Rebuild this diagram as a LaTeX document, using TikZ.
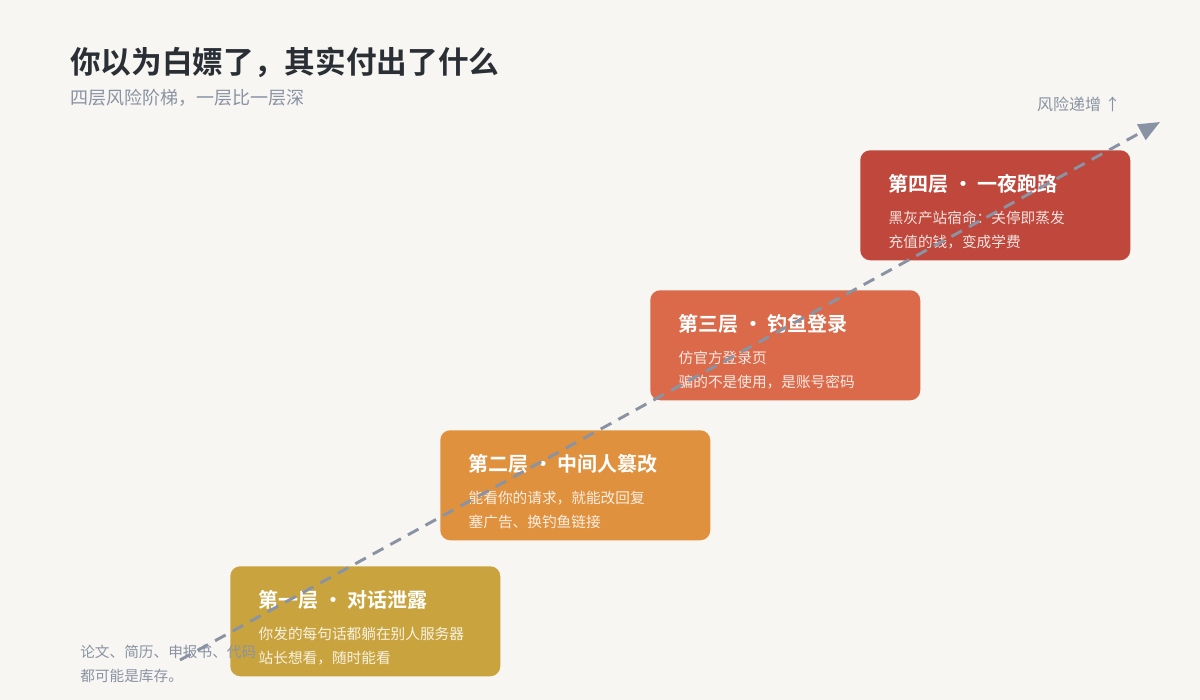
\documentclass[tikz,border=0pt]{standalone}
\usepackage{fontspec}
\setmainfont{Noto Sans CJK SC}
\newfontfamily\cjkbold{Noto Sans CJK SC Bold}
\usetikzlibrary{arrows.meta}
\definecolor{bgpaper}{HTML}{F7F6F2}
\definecolor{inkdark}{HTML}{2A2F36}
\definecolor{inkgray}{HTML}{8A93A3}
\definecolor{layerone}{HTML}{C9A43E}
\definecolor{layertwo}{HTML}{E0913E}
\definecolor{layerthree}{HTML}{DB6A4A}
\definecolor{layerfour}{HTML}{C0473B}
\tikzset{
  layer/.style={fill=#1, rounded corners=7.5, minimum width=202.5pt, minimum height=82.5pt, anchor=north west, inner sep=0},
  layertitle/.style={anchor=west, text=white, font=\cjkbold\fontsize{15}{18}\selectfont},
  layertext/.style={anchor=west, text=white, text opacity=0.85, font=\fontsize{11}{13}\selectfont},
  graytext/.style={text=inkgray, font=\fontsize{11}{13}\selectfont},
}
\begin{document}
\begin{tikzpicture}[x=0.75pt,y=-0.75pt]
		\fill[bgpaper] (0,0) rectangle (1200,700);
		\useasboundingbox (0,0) rectangle (1200,700);
		% heading
		\node[anchor=west, text=inkdark, font=\cjkbold\fontsize{23}{27}\selectfont, inner sep=0] (title) at (70,62) {你以为白嫖了，其实付出了什么};
		\node[anchor=west, text=inkgray, font=\fontsize{13.5}{16}\selectfont, inner sep=0] (subtitle) at (70,98) {四层风险阶梯，一层比一层深};
		\node[anchor=east, graytext, font=\fontsize{12}{14}\selectfont, inner sep=0] (trend) at (1121,104) {风险递增 ↑};
		% the four layers
		\foreach \name/\col/\x/\y/\head/\one/\two in {
			one/layerone/230/566/第一层 · 对话泄露/你发的每句话都躺在别人服务器/站长想看，随时能看,
			two/layertwo/440/430/第二层 · 中间人篡改/能看你的请求，就能改回复/塞广告、换钓鱼链接,
			three/layerthree/650/290/第三层 · 钓鱼登录/仿官方登录页/骗的不是使用，是账号密码,
			four/layerfour/860/150/第四层 · 一夜跑路/黑灰产站宿命：关停即蒸发/充值的钱，变成学费} {
			\node[layer=\col] (\name) at (\x,\y) {};
			\node[layertitle] (\name-head) at (\x+24,\y+34) {\head};
			\node[layertext] (\name-a) at (\x+24,\y+68) {\one};
			\node[layertext] (\name-b) at (\x+24,\y+92) {\two};
		}
		% note
		\node[graytext, anchor=north west, align=left, inner sep=0, font=\fontsize{11}{18}\selectfont] (note) at (80,645) {论文、简历、申报书、代码\\都可能是库存。};
		% trend arrow
		\coordinate (start) at (180,660);
		\coordinate (tip) at (1160,122);
		\draw[inkgray, line width=2.2pt, dash pattern=on 9pt off 6pt, -{Triangle[length=16pt,width=13pt]}] (start) -- (tip);
\end{tikzpicture}
\end{document}
